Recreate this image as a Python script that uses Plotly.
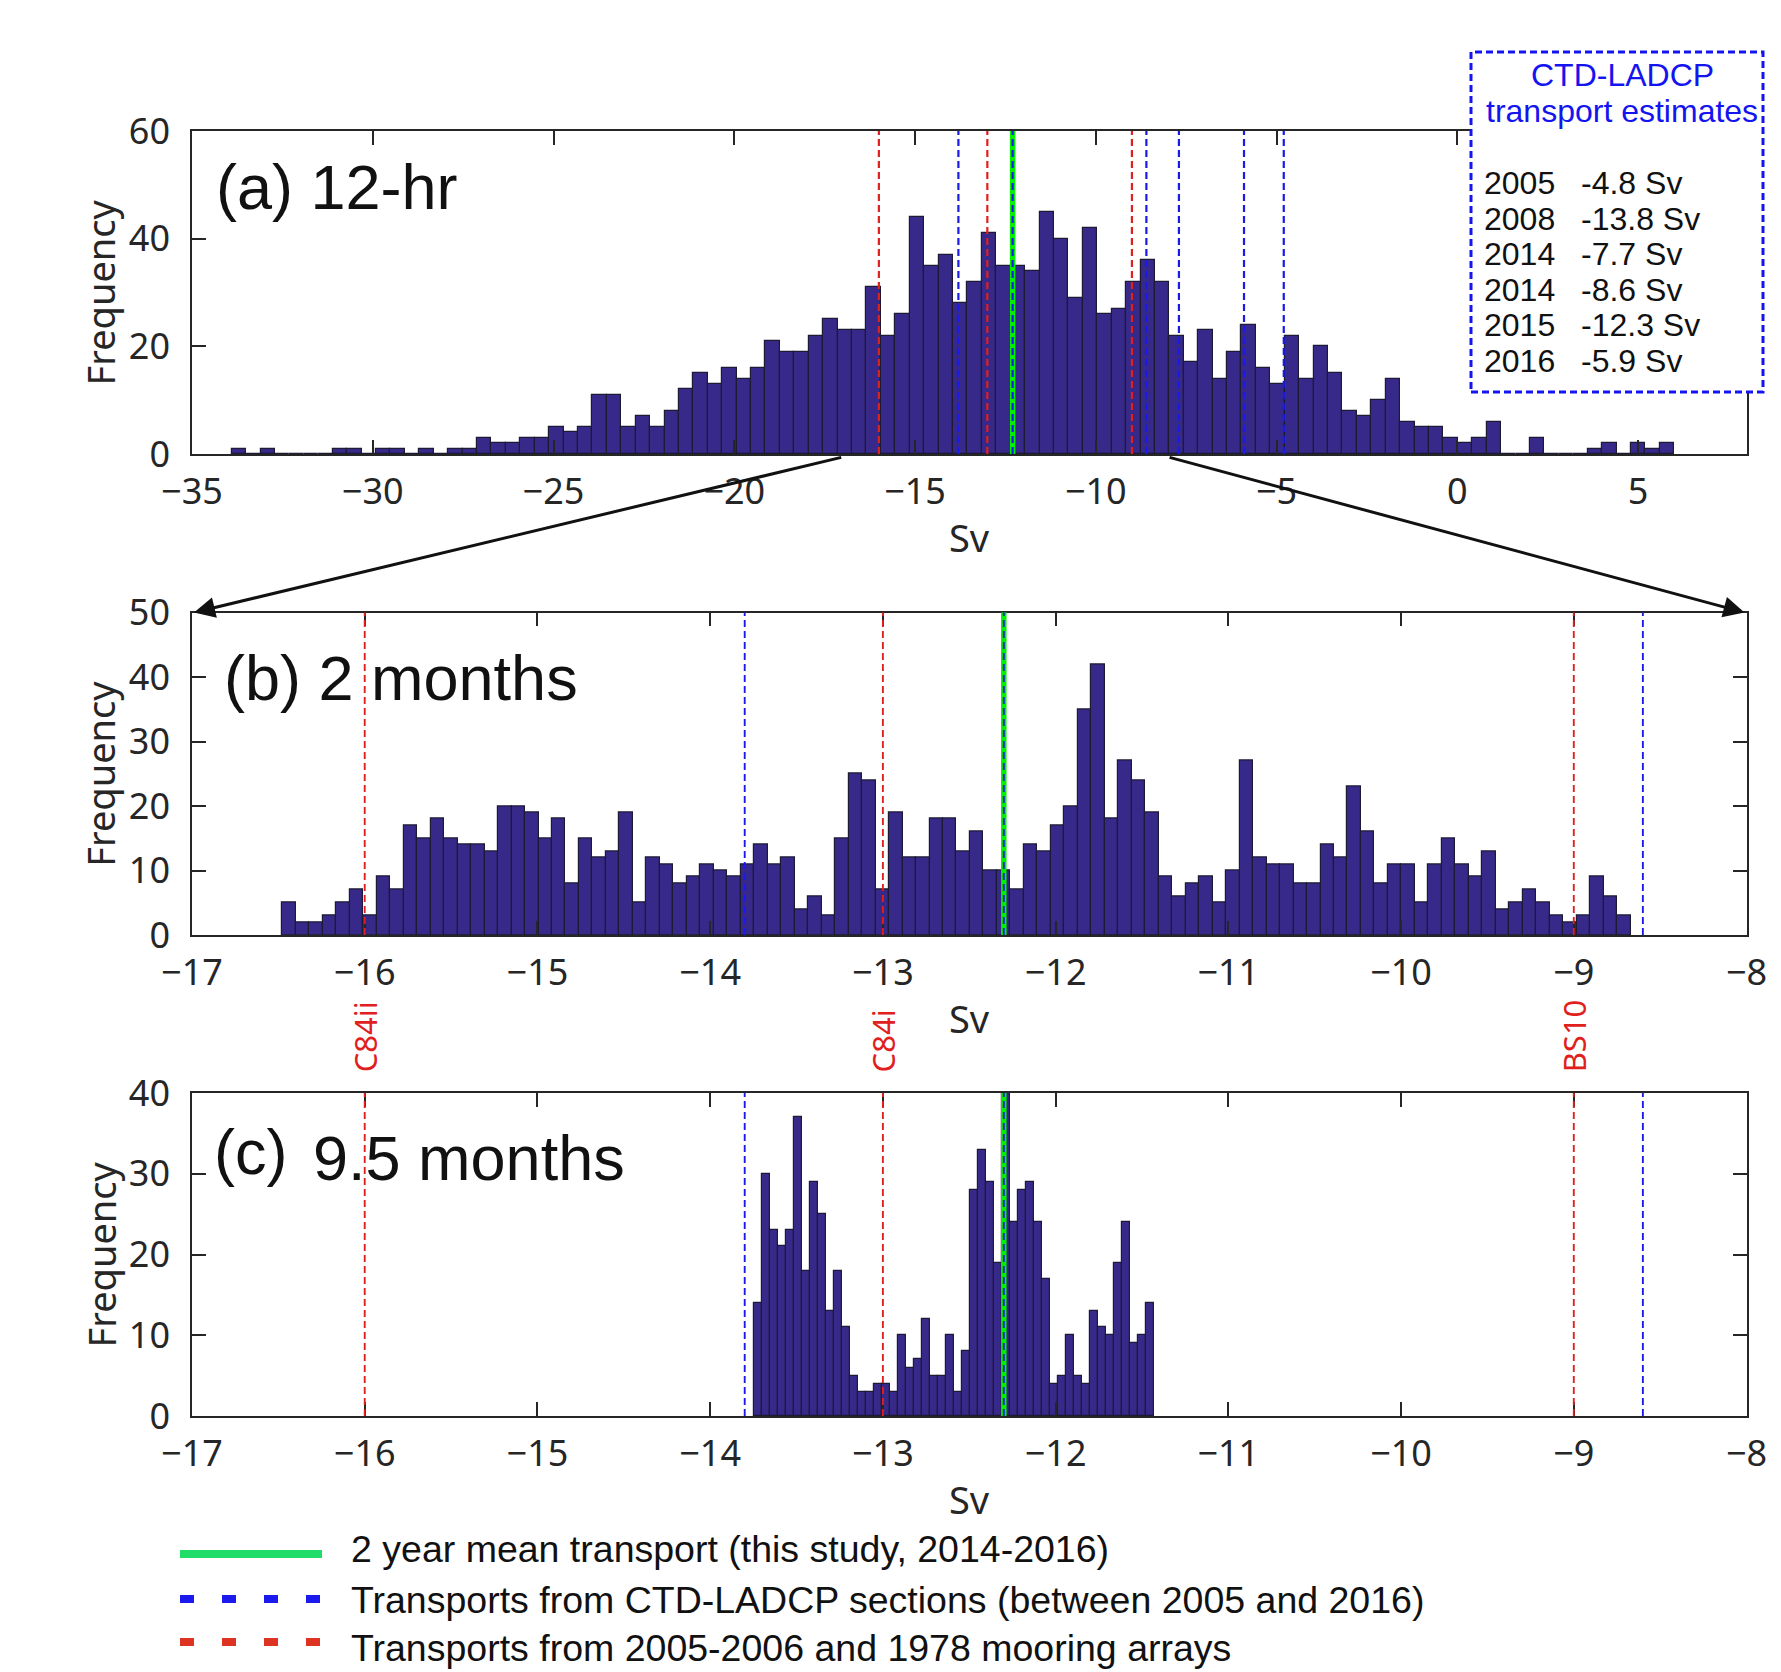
import numpy as np
import plotly.graph_objects as go

W, H = 1781, 1672

# ---------------- data ----------------
# (a) 12-hr record: 100 bins starting at -33.9 Sv, width 0.399 Sv
A_START, A_WIDTH = -33.9, 0.399
A_COUNTS = [1, 0, 1, 0, 0, 0, 0, 1, 1, 0,
            1, 1, 0, 1, 0, 1, 1, 3, 2, 2,
            3, 3, 5, 4, 5, 11, 11, 5, 7, 5,
            8, 12, 15, 13, 16, 14, 16, 21, 19, 19,
            22, 25, 23, 23, 31, 22, 26, 44, 35, 37,
            28, 32, 41, 35, 35, 34, 45, 40, 29, 42,
            26, 27, 32, 36, 32, 22, 17, 23, 14, 19,
            24, 16, 13, 22, 14, 20, 15, 8, 7, 10,
            14, 6, 5, 5, 3, 2, 3, 6, 0, 0,
            3, 0, 0, 0, 1, 2, 0, 2, 1, 2]

# (b) 2-month low-passed record: 100 bins starting at -16.477 Sv
B_START, B_WIDTH = -16.477, 0.07806
B_COUNTS = [5, 2, 2, 3, 5, 7, 3, 9, 7, 17,
            15, 18, 15, 14, 14, 13, 20, 20, 19, 15,
            18, 8, 15, 12, 13, 19, 5, 12, 11, 8,
            9, 11, 10, 9, 11, 14, 11, 12, 4, 6,
            3, 15, 25, 24, 7, 19, 12, 12, 18, 18,
            13, 16, 10, 10, 7, 14, 13, 17, 20, 35,
            42, 18, 27, 24, 19, 9, 6, 8, 9, 5,
            10, 27, 12, 11, 11, 8, 8, 14, 12, 23,
            16, 8, 11, 11, 5, 11, 15, 11, 9, 13,
            4, 5, 7, 5, 3, 2, 3, 9, 6, 3]

# (c) 9.5-month low-passed record: 50 bins starting at -13.747 Sv
C_START, C_WIDTH = -13.747, 0.04628
C_COUNTS = [14, 30, 23, 21, 23, 37, 18, 29, 25, 13,
            18, 11, 5, 3, 3, 4, 4, 3, 10, 6,
            7, 12, 5, 5, 10, 3, 8, 28, 33, 29,
            19, 41, 24, 28, 29, 24, 17, 4, 5, 10,
            5, 4, 13, 11, 10, 19, 24, 9, 10, 14]

MEAN_TRANSPORT = -12.3
CTD_YEARS = ["2005", "2008", "2014", "2014", "2015", "2016"]
CTD_VALUES = [-4.8, -13.8, -7.7, -8.6, -12.3, -5.9]
MOORING_VALUES = [-16.0, -13.0, -9.0]
MOORING_LABELS = ["C84ii", "C84i", "BS10"]

A_XRANGE, A_YRANGE = [-35, 8], [0, 60]
B_XRANGE, B_YRANGE = [-17, -8], [0, 50]
C_XRANGE, C_YRANGE = [-17, -8], [0, 40]
A_XTICKS = [-35, -30, -25, -20, -15, -10, -5, 0, 5]
BC_XTICKS = [-17, -16, -15, -14, -13, -12, -11, -10, -9, -8]
A_YTICKS = [0, 20, 40, 60]
B_YTICKS = [0, 10, 20, 30, 40, 50]
C_YTICKS = [0, 10, 20, 30, 40]

LEGEND_TEXT = ["2 year mean transport (this study, 2014-2016)",
               "Transports from CTD-LADCP sections (between 2005 and 2016)",
               "Transports from 2005-2006 and 1978 mooring arrays"]

# ---------------- styling ----------------
BAR_COLOR = "#36298a"
EDGE_COLOR = "#1d1b33"
AX_COLOR = "#262626"
RED = "#e0201c"
BLUE = "#1a1aea"
GREEN = "#00f000"
TICK_FONT = dict(family="Noto Sans, Open Sans, DejaVu Sans", size=36, color=AX_COLOR)
LABEL_FONT = dict(family="Noto Sans, Open Sans, DejaVu Sans", size=38, color=AX_COLOR)
ARIAL = "Liberation Sans, Arial, DejaVu Sans"

# pixel layout of the three panels
X_PIX = (192.0, 1746.5)
PANELS = {"a": (131.0, 454.0), "b": (612.5, 935.0), "c": (1093.0, 1416.0)}


def xdom():
    return [X_PIX[0] / W, X_PIX[1] / W]


def ydom(p):
    top, bot = PANELS[p]
    return [1 - bot / H, 1 - top / H]


fig = go.Figure()


def add_hist(counts, start, width, xa, ya):
    counts = np.asarray(counts, dtype=float)
    centers = start + width * (np.arange(len(counts)) + 0.5)
    fig.add_trace(go.Bar(x=centers, y=counts, width=width, xaxis=xa, yaxis=ya,
                         marker=dict(color=BAR_COLOR, line=dict(color=EDGE_COLOR, width=1.2)),
                         hoverinfo="x+y"))


add_hist(A_COUNTS, A_START, A_WIDTH, "x", "y")
add_hist(B_COUNTS, B_START, B_WIDTH, "x2", "y2")
add_hist(C_COUNTS, C_START, C_WIDTH, "x3", "y3")


def axis_common(rng, tickvals, dom, anchor, standoff):
    return dict(range=rng, tickvals=tickvals, domain=dom, anchor=anchor,
                showline=True, linecolor=AX_COLOR, linewidth=1.5, mirror="ticks",
                ticks="inside", ticklen=14, tickwidth=1.5, tickcolor=AX_COLOR,
                showgrid=False, zeroline=False, tickfont=TICK_FONT, automargin=False,
                ticklabelstandoff=standoff, fixedrange=True)


fig.update_layout(
    width=W, height=H, margin=dict(l=0, r=0, t=0, b=0),
    paper_bgcolor="white", plot_bgcolor="white", showlegend=False, bargap=0,
    xaxis=axis_common(A_XRANGE, A_XTICKS, xdom(), "y", 5),
    yaxis=axis_common(A_YRANGE, A_YTICKS, ydom("a"), "x", 13),
    xaxis2=axis_common(B_XRANGE, BC_XTICKS, xdom(), "y2", 5),
    yaxis2=axis_common(B_YRANGE, B_YTICKS, ydom("b"), "x2", 13),
    xaxis3=axis_common(C_XRANGE, BC_XTICKS, xdom(), "y3", 5),
    yaxis3=axis_common(C_YRANGE, C_YTICKS, ydom("c"), "x3", 13),
)


def vline(xref, yref, xv, color, width, dash):
    fig.add_shape(type="line", xref=xref, yref=yref + " domain", x0=xv, x1=xv, y0=0, y1=1,
                  line=dict(color=color, width=width, dash=dash), layer="above")


for xr, yr, rng, scale in [("x", "y", A_XRANGE, 1.0), ("x2", "y2", B_XRANGE, 0.85), ("x3", "y3", C_XRANGE, 0.85)]:
    for v in MOORING_VALUES:
        if rng[0] <= v <= rng[1]:
            vline(xr, yr, v, RED, 2.2 * scale, "7px,4px")
    vline(xr, yr, MEAN_TRANSPORT, GREEN, 5.5, "solid")
    for v in CTD_VALUES:
        if rng[0] <= v <= rng[1]:
            vline(xr, yr, v, BLUE, 2.2 * scale, "7px,4px")


# panel titles
def ptext(txt, xpix, ypix, size=62, **kw):
    fig.add_annotation(text=txt, x=xpix / W, y=1 - ypix / H, xref="paper", yref="paper",
                       xanchor="left", yanchor="middle", showarrow=False,
                       font=dict(family=ARIAL, size=size, color="#111111"), **kw)


ptext("(a) 12-hr", 214, 187, size=63)
ptext("(b) 2 months", 222, 678, size=63)
ptext("(c)", 212, 1152, size=63)
ptext("9.5 months", 311, 1158, size=63)

# axis labels
for p in ["a", "b", "c"]:
    top, bot = PANELS[p]
    fig.add_annotation(text="Frequency", x=100 / W, y=1 - (top + bot) / 2 / H, xref="paper", yref="paper",
                       textangle=-90, showarrow=False, font=LABEL_FONT, xanchor="center", yanchor="middle")
    fig.add_annotation(text="Sv", x=(X_PIX[0] + X_PIX[1]) / 2 / W, y=1 - (bot + 83) / H, xref="paper",
                       yref="paper", showarrow=False, font=LABEL_FONT, xanchor="center", yanchor="middle")

# mooring labels between (b) and (c)
for v, lab in zip(MOORING_VALUES, MOORING_LABELS):
    fig.add_annotation(text=lab, x=v, xref="x2", y=1 - 1074 / H, yref="paper", textangle=-90,
                       showarrow=False, xanchor="center", yanchor="bottom",
                       font=dict(family="Noto Sans, Open Sans, DejaVu Sans", size=31, color=RED))


# zoom arrows from panel (a) to panel (b)
def a_xpix(v):
    return X_PIX[0] + (v - A_XRANGE[0]) / (A_XRANGE[1] - A_XRANGE[0]) * (X_PIX[1] - X_PIX[0])


tail_y = PANELS["a"][1] + 3
head_y = PANELS["b"][0]
for v, hx in [(B_XRANGE[0], X_PIX[0] + 2), (B_XRANGE[1], X_PIX[1] - 2)]:
    tx = a_xpix(v)
    fig.add_annotation(x=hx / W, y=1 - head_y / H, xref="paper", yref="paper", text="",
                       showarrow=True, axref="pixel", ayref="pixel", ax=tx - hx, ay=tail_y - head_y,
                       arrowhead=2, arrowsize=1.4, arrowwidth=3, arrowcolor="#111111")

# CTD-LADCP box
bx0, by0, bx1, by1 = 1471, 52, 1763, 392
fig.add_shape(type="rect", xref="paper", yref="paper", x0=bx0 / W, x1=bx1 / W, y0=1 - by1 / H, y1=1 - by0 / H,
              line=dict(color="#1414f0", width=3, dash="7px,4px"), fillcolor="white", layer="above")
fig.add_annotation(text="CTD-LADCP", x=1622 / W, y=1 - 75 / H, xref="paper", yref="paper", showarrow=False,
                   xanchor="center", yanchor="middle", font=dict(family=ARIAL, size=32, color="#1414f0"))
fig.add_annotation(text="transport estimates", x=1622 / W, y=1 - 111 / H, xref="paper", yref="paper",
                   showarrow=False, xanchor="center", yanchor="middle",
                   font=dict(family=ARIAL, size=32, color="#1414f0"))
for i, (yr, val) in enumerate(zip(CTD_YEARS, CTD_VALUES)):
    ypix = 183 + 35.6 * i
    fig.add_annotation(text=yr, x=1482 / W, y=1 - ypix / H, xref="paper", yref="paper", showarrow=False,
                       xanchor="left", yanchor="middle", font=dict(family=ARIAL, size=32, color="#111111"))
    fig.add_annotation(text=f"-{abs(val):.1f} Sv", x=1579 / W, y=1 - ypix / H, xref="paper", yref="paper",
                       showarrow=False, xanchor="left", yanchor="middle",
                       font=dict(family=ARIAL, size=32, color="#111111"))

# bottom legend
leg_items = [("#20dd6a", "solid", 1554, 1549), ("#1a1aee", "14px,28px", 1599, 1600),
             ("#dd3322", "14px,28px", 1642, 1648)]
for (col, dash, ly, ty), txt in zip(leg_items, LEGEND_TEXT):
    fig.add_shape(type="line", xref="paper", yref="paper", x0=180 / W, x1=322 / W, y0=1 - ly / H, y1=1 - ly / H,
                  line=dict(color=col, width=8, dash=dash), layer="above")
    fig.add_annotation(text=txt, x=349 / W, y=1 - ty / H, xref="paper", yref="paper", showarrow=False,
                       xanchor="left", yanchor="middle", font=dict(family=ARIAL, size=37.5, color="#111111"))

fig.write_html("out.html", config={"displayModeBar": False},
               post_script="document.body.style.margin='0';")
